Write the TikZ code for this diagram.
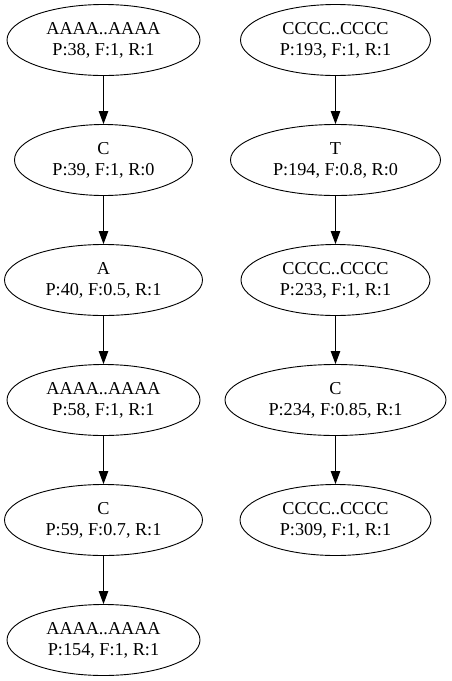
\documentclass[tikz,border=0pt]{standalone}
\usepackage{fontspec}
\setmainfont{Liberation Serif}
\usepackage{tikz}
\usetikzlibrary{positioning, arrows.meta, shapes.geometric}

\begin{document}
\begin{tikzpicture}[x=1pt,y=1pt,yscale=-1,xscale=1,
    seqnode/.style={draw, ellipse, line width=0.9pt, inner sep=0pt, minimum height=71pt, align=center, font=\fontsize{18.2}{21}\selectfont},
    seqedge/.style={draw, line width=0.9pt, -{Triangle[length=13pt, width=9.5pt]}}]
        \useasboundingbox (0,0) rectangle (452,681);
        % left chain
        \node [seqnode, minimum width=193pt] (a1) at (103.5,40) {AAAA..AAAA\\P:38, F:1, R:1};
        \node [seqnode, minimum width=178pt] (a2) at (103.5,160) {C\\P:39, F:1, R:0};
        \node [seqnode, minimum width=198pt] (a3) at (103.5,280) {A\\P:40, F:0.5, R:1};
        \node [seqnode, minimum width=193pt] (a4) at (103.5,400) {AAAA..AAAA\\P:58, F:1, R:1};
        \node [seqnode, minimum width=198pt] (a5) at (103.5,520) {C\\P:59, F:0.7, R:1};
        \node [seqnode, minimum width=193pt] (a6) at (103.5,640) {AAAA..AAAA\\P:154, F:1, R:1};
        % right chain
        \node [seqnode, minimum width=190pt] (c1) at (335.5,40) {CCCC..CCCC\\P:193, F:1, R:1};
        \node [seqnode, minimum width=210pt] (c2) at (335.5,160) {T\\P:194, F:0.8, R:0};
        \node [seqnode, minimum width=189pt] (c3) at (335.5,280) {CCCC..CCCC\\P:233, F:1, R:1};
        \node [seqnode, minimum width=221pt] (c4) at (335.5,400) {C\\P:234, F:0.85, R:1};
        \node [seqnode, minimum width=191pt] (c5) at (335.5,520) {CCCC..CCCC\\P:309, F:1, R:1};
        % edges
        \draw [seqedge] (a1) -- (a2);
        \draw [seqedge] (a2) -- (a3);
        \draw [seqedge] (a3) -- (a4);
        \draw [seqedge] (a4) -- (a5);
        \draw [seqedge] (a5) -- (a6);
        \draw [seqedge] (c1) -- (c2);
        \draw [seqedge] (c2) -- (c3);
        \draw [seqedge] (c3) -- (c4);
        \draw [seqedge] (c4) -- (c5);
    \end{tikzpicture}
\end{document}
